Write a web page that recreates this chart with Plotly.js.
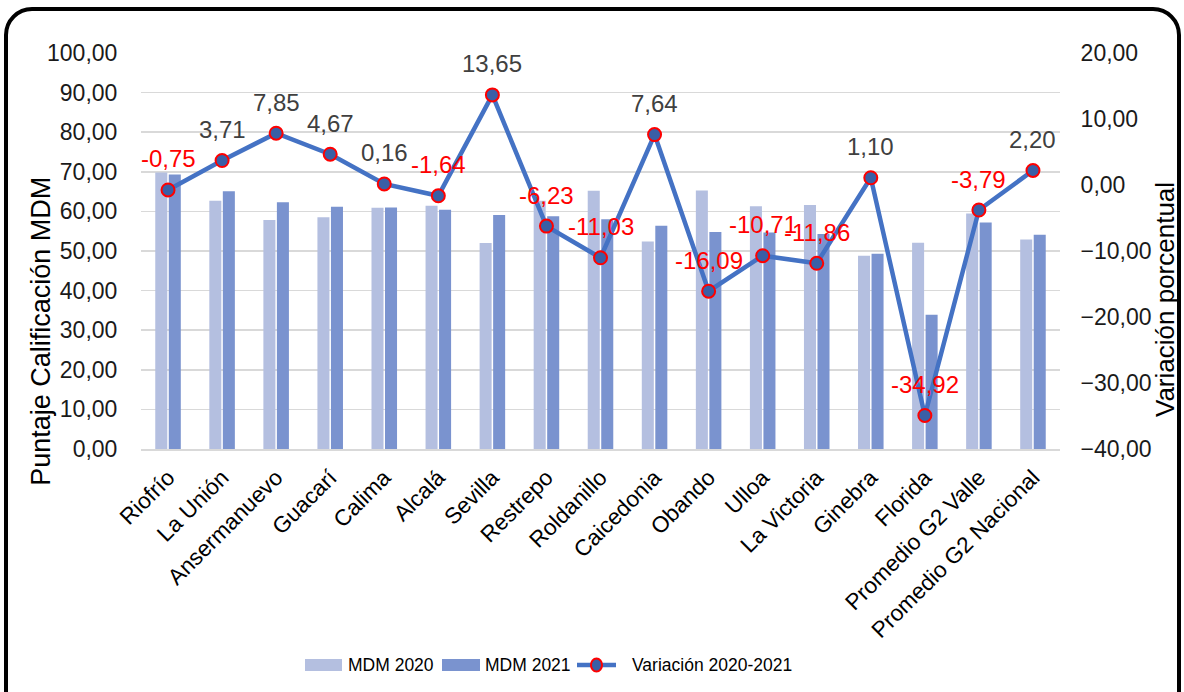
<!DOCTYPE html>
<html>
<head>
<meta charset="utf-8">
<script src="https://cdn.plot.ly/plotly-3.0.1.min.js"></script>
<style>
  html, body { margin:0; padding:0; background:#fff; overflow:hidden; }
  #frame { position:absolute; left:4px; top:7px; width:1177px; height:740px; box-sizing:border-box;
           border:4px solid #000; border-radius:28px; pointer-events:none; z-index:10; }
  #chart { position:absolute; left:0; top:0; width:1184px; height:692px; }
</style>
</head>
<body>
<div id="chart"></div>
<div id="frame"></div>
<script>
const categories = ["Riofrío","La Unión","Ansermanuevo","Guacarí","Calima","Alcalá","Sevilla","Restrepo","Roldanillo","Caicedonia","Obando","Ulloa","La Victoria","Ginebra","Florida","Promedio G2 Valle","Promedio G2 Nacional"];
const mdm2020 = [69.8, 62.7, 57.8, 58.5, 60.9, 61.4, 52.0, 62.7, 65.2, 52.4, 65.3, 61.3, 61.6, 48.8, 52.1, 59.5, 52.9];
const mdm2021 = [69.3, 65.1, 62.3, 61.2, 61.0, 60.4, 59.1, 58.8, 58.0, 56.4, 54.8, 54.7, 54.3, 49.3, 33.9, 57.2, 54.1];
const variacion = [-0.75, 3.71, 7.85, 4.67, 0.16, -1.64, 13.65, -6.23, -11.03, 7.64, -16.09, -10.71, -11.86, 1.10, -34.92, -3.79, 2.20];
const seriesNames = ["MDM 2020", "MDM 2021", "Variación 2020-2021"];

const FONT = "Liberation Sans, Arial, sans-serif";
const C2020 = '#B4BFE0', C2021 = '#7A93CF', CLINE = '#4472C4', CMARK = '#3A5FA6', CRING = '#FF0000';

const traces = [
  { type:'bar', name:seriesNames[0], x:categories, y:mdm2020, marker:{color:C2020}, yaxis:'y', hoverinfo:'skip' },
  { type:'bar', name:seriesNames[1], x:categories, y:mdm2021, marker:{color:C2021}, yaxis:'y', hoverinfo:'skip' },
  { type:'scatter', mode:'lines+markers', name:seriesNames[2], x:categories, y:variacion, yaxis:'y2',
    line:{color:CLINE, width:4.5},
    marker:{size:13, color:CMARK, line:{color:CRING, width:2}}, hoverinfo:'skip' }
];

const annotations = variacion.map((v, i) => ({
  x: categories[i], y: v, xref:'x', yref:'y2', yshift:31, showarrow:false,
  text: v.toFixed(2).replace('.', ','),
  font:{family:FONT, size:24, color: v < 0 ? '#FF0000' : '#404040'}
}));

// axis titles
annotations.push({
  xref:'paper', yref:'paper', x:-0.109, y:0.298, xanchor:'center', yanchor:'middle', showarrow:false,
  textangle:-90, text:'Puntaje Calificación MDM', font:{family:FONT, size:27, color:'#000'}
});
annotations.push({
  xref:'paper', yref:'paper', x:1.115, y:0.378, xanchor:'center', yanchor:'middle', showarrow:false,
  textangle:-90, text:'Variación porcentual', font:{family:FONT, size:26, color:'#000'}
});

// custom legend (pixel -> paper helpers)
const PL = 141, PW = 919, PB = 449, PH = 396;
const px = v => (v - PL) / PW;
const py = v => (PB - v) / PH;
const LY = 665;
const shapes = [
  {type:'rect', xref:'paper', yref:'paper', x0:px(305), x1:px(342), y0:py(LY+6), y1:py(LY-6), fillcolor:C2020, line:{width:0}},
  {type:'rect', xref:'paper', yref:'paper', x0:px(442), x1:px(480), y0:py(LY+6), y1:py(LY-6), fillcolor:C2021, line:{width:0}},
  {type:'line', xref:'paper', yref:'paper', x0:px(577), x1:px(616), y0:py(LY), y1:py(LY), line:{color:CLINE, width:4.5}},
  {type:'circle', xref:'paper', yref:'paper', x0:px(591), x1:px(602), y0:py(LY+6.5), y1:py(LY-6.5), fillcolor:CMARK, line:{color:CRING, width:2}}
];
const legendText = [[346, seriesNames[0]], [483, seriesNames[1]], [630, seriesNames[2]]];
legendText.forEach(([x, t]) => annotations.push({
  xref:'paper', yref:'paper', x:px(x), y:py(LY), xanchor:'left', yanchor:'middle', showarrow:false,
  text:t, font:{family:FONT, size:17.5, color:'#000'}
}));

const layout = {
  width:1184, height:692,
  margin:{l:141, r:124, t:53, b:243},
  paper_bgcolor:'#fff', plot_bgcolor:'#fff',
  separators:',.',
  font:{family:FONT, size:22, color:'#1a1a1a'},
  showlegend:false,
  barmode:'group', bargap:0.5, bargroupgap:0.11,
  xaxis:{type:'category', range:[-0.5, categories.length - 0.5], tickangle:-45,
         tickfont:{family:FONT, size:22.5, color:'#000'},
         showline:true, linecolor:'#D9D9D9', linewidth:1.5, showgrid:false,
         ticks:'outside', ticklen:5, tickcolor:'rgba(0,0,0,0)', automargin:false},
  yaxis:{range:[0,100], dtick:10, tickformat:'.2f', showgrid:true, gridcolor:'#D9D9D9', gridwidth:1.5,
         zeroline:false, showline:false, ticks:'outside', ticklen:18, tickcolor:'rgba(0,0,0,0)',
         tickfont:{family:FONT, size:23, color:'#1a1a1a'}, automargin:false},
  yaxis2:{range:[-40,20], dtick:10, tickformat:'.2f', overlaying:'y', side:'right', showgrid:false,
          zeroline:false, showline:false, ticks:'outside', ticklen:15, tickcolor:'rgba(0,0,0,0)',
          tickfont:{family:FONT, size:23, color:'#1a1a1a'}, automargin:false},
  shapes: shapes,
  annotations: annotations
};

Plotly.newPlot('chart', traces, layout, {displayModeBar:false, staticPlot:true});
</script>
</body>
</html>
